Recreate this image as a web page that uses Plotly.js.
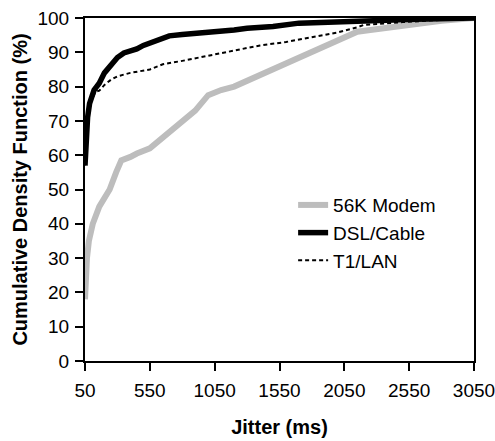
<!DOCTYPE html>
<html><head><meta charset="utf-8">
<script src="https://cdn.plot.ly/plotly-3.0.1.min.js"></script>
<style>html,body{margin:0;padding:0;background:#fff}</style>
</head><body>
<div id="chart" style="width:495px;height:441px"></div>
<script>
const modemX = [50,55,65,80,110,160,240,290,330,400,450,550,600,700,800,900,1000,1100,1200,1350,1450,1550,1650,1750,1850,2000,2150,2250,2400,2600,2800,3050];
const modemY = [18,25,30,35,40,45,50,55,58.5,59.5,60.5,62,63.5,67,69.5,73,77.5,79,80,82.5,84.5,86,87.5,89.5,91,93.8,96,96.5,97.3,98.4,99.2,100];
const dslX = [50,55,60,70,85,100,120,140,160,200,250,300,350,400,450,500,600,700,800,900,1000,1100,1200,1300,1500,1700,2000,2300,2600,3050];
const dslY = [57,62,66,71,75,77,79,80,81,84,86.5,88.5,89.8,90.3,91,92,93.3,94.8,95.2,95.5,95.8,96,96.5,97,97.5,98.5,99,99.3,99.6,100];
const t1X = [50,60,80,100,130,160,200,250,300,400,550,650,800,1000,1200,1400,1600,1800,2000,2150,2200,2500,2800,3050];
const t1Y = [57,66,73,76,78.5,78.8,80.5,82,83,84,85,86.5,87.5,89,90.5,92,93,94.5,95.8,97.3,98,98.8,99.4,100];
const names = ["56K Modem","DSL/Cable","T1/LAN"];
const xTicks = [50,550,1050,1550,2050,2550,3050];
const yTicks = [0,10,20,30,40,50,60,70,80,90,100];

const traces = [
  {x: modemX, y: modemY, name: names[0], mode: "lines", line: {color: "#bdbdbd", width: 6}},
  {x: dslX, y: dslY, name: names[1], mode: "lines", line: {color: "#000", width: 5.5}},
  {x: t1X, y: t1Y, name: names[2], mode: "lines", line: {color: "#000", width: 2, dash: "4px,3px"}}
];
const font = {family: "Liberation Sans, Arial, sans-serif", color: "#000"};
const layout = {
  width: 495, height: 441,
  margin: {l: 85, r: 21, t: 18, b: 80},
  paper_bgcolor: "#fff", plot_bgcolor: "#fff",
  font: Object.assign({size: 19}, font),
  showlegend: true,
  legend: {x: 0.535, y: 0.51, xanchor: "left", yanchor: "top", bgcolor: "rgba(0,0,0,0)",
           font: Object.assign({size: 19}, font), tracegroupgap: 0},
  xaxis: {range: [50, 3050], tickvals: xTicks, ticktext: xTicks.map(String),
          showgrid: false, zeroline: false, showline: true, linecolor: "#000", linewidth: 2,
          mirror: true, ticks: "outside", ticklen: 8, tickwidth: 2, tickcolor: "#000",
          ticklabelstandoff: 3, ticklabeloverflow: "allow",
          tickfont: Object.assign({size: 19}, font),
          title: {text: "<b>Jitter (ms)</b>", font: Object.assign({size: 20}, font), standoff: 20}},
  yaxis: {range: [0, 100], tickvals: yTicks, ticktext: yTicks.map(String),
          showgrid: false, zeroline: false, showline: true, linecolor: "#000", linewidth: 2,
          mirror: true, ticks: "outside", ticklen: 8, tickwidth: 2, tickcolor: "#000",
          ticklabelstandoff: 2,
          tickfont: Object.assign({size: 19}, font),
          title: {text: "<b>Cumulative Density Function (%)</b>", font: Object.assign({size: 20}, font), standoff: 4}}
};
Plotly.newPlot("chart", traces, layout, {displayModeBar: false, staticPlot: true});
</script>
</body></html>
